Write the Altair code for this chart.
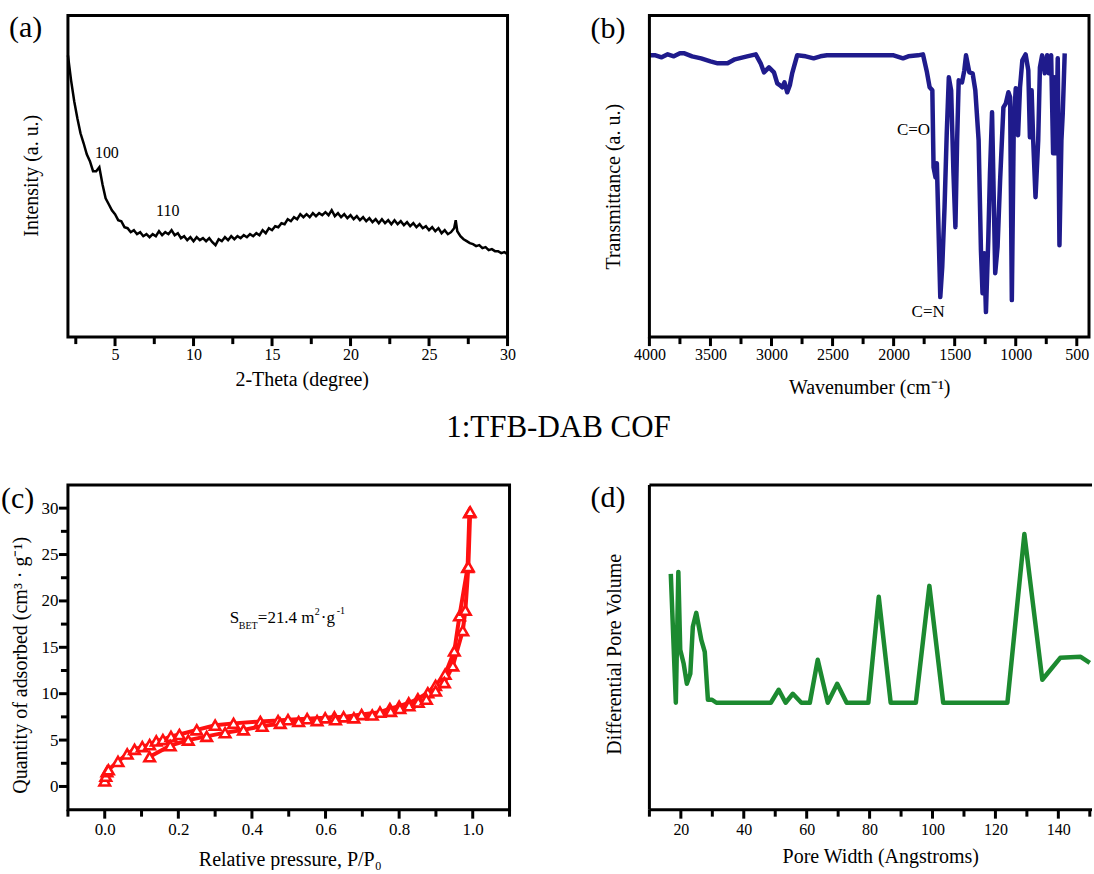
import altair as alt
import pandas as pd

SERIF = "Liberation Serif"

# ---------------- (a) powder XRD pattern ----------------
two_theta = [
    2.0, 2.2, 2.4, 2.6, 2.8, 3.0, 3.2, 3.4, 3.6, 3.8,
    4.0, 4.2, 4.4, 4.6, 4.8, 5.0, 5.2, 5.4, 5.6, 5.8,
    6.0, 6.2, 6.4, 6.6, 6.8, 7.0, 7.2, 7.4, 7.6, 7.8,
    8.0, 8.2, 8.4, 8.6, 8.8, 9.0, 9.2, 9.4, 9.6, 9.8,
    10.0, 10.2, 10.4, 10.6, 10.8, 11.0, 11.2, 11.4, 11.6, 11.8,
    12.0, 12.2, 12.4, 12.6, 12.8, 13.0, 13.2, 13.4, 13.6, 13.8,
    14.0, 14.2, 14.4, 14.6, 14.8, 15.0, 15.2, 15.4, 15.6, 15.8,
    16.0, 16.2, 16.4, 16.6, 16.8, 17.0, 17.2, 17.4, 17.6, 17.8,
    18.0, 18.2, 18.4, 18.6, 18.8, 19.0, 19.2, 19.4, 19.6, 19.8,
    20.0, 20.2, 20.4, 20.6, 20.8, 21.0, 21.2, 21.4, 21.6, 21.8,
    22.0, 22.2, 22.4, 22.6, 22.8, 23.0, 23.2, 23.4, 23.6, 23.8,
    24.0, 24.2, 24.4, 24.6, 24.8, 25.0, 25.2, 25.4, 25.6, 25.8,
    26.0, 26.2, 26.4, 26.6, 26.7, 26.8, 27.0, 27.2, 27.4, 27.6,
    27.8, 28.0, 28.2, 28.4, 28.6, 28.8, 29.0, 29.2, 29.4, 29.6,
    29.8, 30.0,
]
xrd_intensity = [
    282, 257, 236, 219, 204, 194, 183, 176, 166, 166,
    170, 153, 139, 133, 127, 123, 117, 116, 110, 109,
    105, 107, 103, 105, 101, 103, 100, 103, 101, 106,
    102, 105, 103, 107, 102, 104, 99, 101, 97, 100,
    96, 100, 97, 99, 96, 99, 95, 92, 98, 96,
    100, 97, 101, 98, 101, 99, 102, 100, 103, 101,
    104, 102, 107, 104, 109, 107, 111, 110, 114, 113,
    118, 116, 120, 118, 123, 120, 123, 120, 124, 121,
    124, 122, 125, 122, 127, 121, 124, 120, 123, 119,
    122, 118, 121, 117, 120, 116, 119, 115, 118, 114,
    118, 114, 117, 113, 117, 113, 116, 112, 115, 111,
    114, 110, 113, 109, 111, 107, 110, 106, 109, 104,
    107, 103, 105, 109, 117, 106, 101, 98, 96, 94,
    93, 91, 92, 89, 90, 87, 88, 86, 86, 84,
    85, 83,
]
xrd_peak_pos = [4.48, 8.36]
xrd_peak_height = [179, 121]
xrd_peak_label = ["100", "110"]
xrd_major_ticks = [5, 10, 15, 20, 25, 30]
xrd_minor_ticks = [2.5, 7.5, 12.5, 17.5, 22.5, 27.5]

# ---------------- (b) FT-IR spectrum ----------------
ftir_wavenumber = [
    3995, 3950, 3900, 3850, 3800, 3750, 3713, 3650, 3577, 3500,
    3441, 3360, 3300, 3200, 3129, 3089, 3062, 3021, 2980, 2953,
    2930, 2912, 2894, 2871, 2850, 2831, 2790, 2720, 2655, 2600,
    2546, 2438, 2300, 2100, 2000, 1923, 1880, 1800, 1760, 1727,
    1705, 1683, 1673, 1657, 1646, 1630, 1618, 1602, 1583, 1565,
    1548, 1529, 1510, 1494, 1480, 1467, 1440, 1421, 1407, 1380,
    1353, 1331, 1304, 1285, 1272, 1258, 1244, 1225, 1211, 1194,
    1184, 1168, 1149, 1128, 1101, 1081, 1060, 1046, 1032, 1016,
    1000, 981, 965, 946, 919, 897, 884, 870, 857, 838,
    816, 802, 784, 762, 743, 729, 710, 694, 680, 669,
    656, 642, 626, 615, 599,
]
ftir_transmittance = [
    282, 282, 280, 283, 281, 284, 284, 281, 279, 276,
    274, 274, 278, 281, 283, 274, 265, 270, 265, 254,
    252, 250, 255, 245, 252, 264, 282, 281, 279, 281,
    282, 282, 282, 282, 282, 279, 281, 282, 283, 265,
    250, 247, 170, 160, 174, 97, 40, 70, 130, 204,
    260, 247, 164, 110, 197, 257, 255, 267, 282, 265,
    264, 247, 197, 87, 44, 84, 25, 97, 164, 225,
    164, 64, 90, 157, 230, 234, 245, 240, 37, 214,
    249, 202, 250, 277, 283, 267, 200, 247, 197, 140,
    197, 270, 282, 264, 282, 264, 282, 184, 260, 184,
    279, 92, 197, 224, 284,
]
ftir_major_ticks = [4000, 3500, 3000, 2500, 2000, 1500, 1000, 500]
ftir_minor_ticks = [3750, 3250, 2750, 2250, 1750, 1250, 750]
ftir_band_label = ["C=O", "C=N"]
ftir_band_pos = [1701, 1717]
ftir_band_height = [202, 20]
ftir_band_align = ["right", "center"]

# ---------------- (c) N2 sorption isotherm ----------------
ads_pressure = [0.000, 0.003, 0.006, 0.010, 0.036, 0.061, 0.081, 0.102, 0.122,
                0.140, 0.158, 0.180, 0.203, 0.250, 0.300, 0.350, 0.423, 0.471,
                0.498, 0.550, 0.599, 0.624, 0.649, 0.698, 0.748, 0.775, 0.800,
                0.826, 0.851, 0.878, 0.899, 0.925, 0.950, 0.964, 0.986, 0.991]
ads_quantity = [0.6, 1.1, 1.6, 1.8, 2.7, 3.5, 4.0, 4.3, 4.5,
                4.9, 5.05, 5.4, 5.6, 6.1, 6.6, 6.8, 7.0, 7.1,
                7.2, 7.3, 7.4, 7.5, 7.5, 7.75, 8.0, 8.4, 8.65,
                9.0, 9.45, 10.1, 10.9, 12.1, 14.6, 18.4, 23.6, 29.5]
des_pressure = [0.122, 0.178, 0.227, 0.277, 0.327, 0.377, 0.428, 0.477, 0.527,
                0.577, 0.627, 0.677, 0.727, 0.777, 0.802, 0.827, 0.852, 0.874,
                0.899, 0.923, 0.946, 0.973, 0.980, 0.988, 0.993]
des_quantity = [3.2, 4.4, 5.0, 5.4, 5.8, 6.1, 6.5, 6.8, 7.0,
                7.1, 7.2, 7.4, 7.7, 8.1, 8.4, 8.7, 9.1, 9.4,
                10.3, 11.2, 13.0, 16.8, 19.0, 23.7, 29.6]
iso_x_major_ticks = [0.0, 0.2, 0.4, 0.6, 0.8, 1.0]
iso_x_minor_ticks = [-0.1, 0.1, 0.3, 0.5, 0.7, 0.9, 1.1]
iso_y_major_ticks = [0, 5, 10, 15, 20, 25, 30]
iso_y_minor_ticks = [2.5, 7.5, 12.5, 17.5, 22.5, 27.5]

# S_BET annotation pieces: text, font size, horizontal and vertical offsets
bet_text = ["S", "BET", "=21.4 m", "2", "\u00b7g", "-1"]
bet_size = [17, 10, 17, 10, 17, 10]
bet_dx = [0, 9, 28, 85, 91, 107]
bet_dy = [0, 6, 0, -8, 0, -9]

# ---------------- (d) pore size distribution ----------------
pore_width = [16.8, 18.4, 19.2, 19.8, 20.9, 21.9, 23.0, 23.8, 24.9, 26.5,
              27.6, 28.6, 29.9, 31.3, 48.6, 51.1, 53.3, 55.6, 58.3, 61.0,
              63.5, 66.7, 69.7, 72.7, 79.6, 82.9, 86.7, 94.7, 99.0, 103.4,
              123.8, 129.2, 134.9, 140.6, 147.1, 150.0]
pore_volume = [236, 107, 238, 160, 146, 126, 136, 183, 197, 170,
               158, 110, 110, 107, 107, 120, 107, 116, 107, 107,
               150, 107, 126, 107, 107, 213, 107, 107, 224, 107,
               107, 276, 130, 152, 153, 147]
pore_major_ticks = [20, 40, 60, 80, 100, 120, 140]
pore_minor_ticks = [10, 30, 50, 70, 90, 110, 130, 150]

# Each view is a little larger than its framed plot box: a margin M on the
# left and at the bottom holds the outward tick marks.  The scale domains
# below run from the view edge, so the frames sit at 2-30, 4000-400,
# -0.1-1.1 / -2.5-32.5 and 10-150.7.
M = 10
MAJOR_LEN = 9
MINOR_LEN = 7

WA, HA = 440, 322
WB, HB = 440, 322
WC, HC = 442, 325
WD, HD = 443, 325

XA_DOMAIN = [1.36364, 30]
YA_DOMAIN = [-10, 322]
XB_DOMAIN = [400, 4081.82]
YB_DOMAIN = [-10, 322]
XC_DOMAIN = [-0.127149, 1.1]
YC_DOMAIN = [-3.57692, 32.5]
XD_DOMAIN = [6.82393, 150.7]
YD_DOMAIN = [-10, 325]


def lin_scale(domain, reverse=False):
    if reverse:
        return alt.Scale(domain=domain, nice=False, zero=False, reverse=True)
    return alt.Scale(domain=domain, nice=False, zero=False)


def bottom_axis(title, values, fmt, title_x, title_y, label_size=16, label_pad=9):
    return alt.Axis(
        title=title, values=values, format=fmt, grid=False, ticks=False, domain=False,
        offset=-M,
        labelFont=SERIF, labelFontSize=label_size, labelColor="black",
        labelPadding=label_pad, labelFlush=False, labelOverlap=False,
        titleFont=SERIF, titleFontSize=20, titleFontWeight="normal", titleColor="black",
        titleX=title_x, titleY=title_y, titleBaseline="alphabetic",
    )


def plain_left_axis(title, title_x, title_y):
    return alt.Axis(
        title=title, grid=False, ticks=False, labels=False, domain=False,
        offset=-M,
        titleFont=SERIF, titleFontSize=20, titleFontWeight="normal", titleColor="black",
        titleX=title_x, titleY=title_y, titleBaseline="alphabetic", titleAngle=270,
    )


def frame_box(w, h):
    """Black plot frame around the data area (inside the slightly larger view)."""
    return alt.Chart(pd.DataFrame({"k": [0]})).mark_rect(
        filled=False, stroke="black", strokeWidth=3
    ).encode(x=alt.value(M), x2=alt.value(M + w), y=alt.value(0), y2=alt.value(h))


def frame_edge(x1, x2, y1, y2):
    return alt.Chart(pd.DataFrame({"k": [0]})).mark_rule(color="black", strokeWidth=3).encode(
        x=alt.value(x1), x2=alt.value(x2), y=alt.value(y1), y2=alt.value(y2))


def x_tick_marks(field, values, x_channel, h, length):
    """Outward tick marks under the bottom frame edge, placed through the x scale."""
    df = pd.DataFrame({field: values})
    return alt.Chart(df).mark_rule(color="black", strokeWidth=3).encode(
        x=x_channel, y=alt.value(h), y2=alt.value(h + length))


def y_tick_marks(field, values, y_channel, length):
    """Outward tick marks left of the frame, placed through the y scale."""
    df = pd.DataFrame({field: values})
    return alt.Chart(df).mark_rule(color="black", strokeWidth=3).encode(
        y=y_channel, x=alt.value(M - length), x2=alt.value(M))


def panel_tag(tag, x, y):
    return alt.Chart(pd.DataFrame({"tag": [tag]})).mark_text(
        font=SERIF, fontSize=30, align="left", baseline="alphabetic", color="black"
    ).encode(x=alt.value(x), y=alt.value(y), text="tag:N")


# ---- panel (a)
xa = alt.X("two_theta:Q", scale=lin_scale(XA_DOMAIN),
           axis=bottom_axis("2-Theta (degree)", xrd_major_ticks, "d", 234 + M, 48))
ya = alt.Y("intensity:Q", scale=lin_scale(YA_DOMAIN),
           axis=plain_left_axis("Intensity (a. u.)", -30, 160))

xrd_df = pd.DataFrame({"two_theta": two_theta, "intensity": xrd_intensity})
peaks_df = pd.DataFrame({"two_theta": xrd_peak_pos, "intensity": xrd_peak_height, "label": xrd_peak_label})

a_line = alt.Chart(xrd_df).mark_line(color="black", strokeWidth=2.5).encode(x=xa, y=ya)
a_text = alt.Chart(peaks_df).mark_text(
    font=SERIF, fontSize=16, align="center", baseline="alphabetic", color="black"
).encode(x=xa, y=ya, text="label:N")
figure_title = alt.Chart(pd.DataFrame({"t": ["1:TFB-DAB COF"]})).mark_text(
    font=SERIF, fontSize=31, align="center", baseline="alphabetic", color="black"
).encode(x=alt.value(491 + M), y=alt.value(422), text="t:N")

panel_a = alt.layer(
    a_line, a_text, frame_box(WA, HA),
    x_tick_marks("two_theta", xrd_major_ticks, xa, HA, MAJOR_LEN),
    x_tick_marks("two_theta", xrd_minor_ticks, xa, HA, MINOR_LEN),
    panel_tag("(a)", -59 + M, 22), figure_title,
).properties(width=WA + M, height=HA + M)

# ---- panel (b)
xb = alt.X("wavenumber:Q", scale=lin_scale(XB_DOMAIN, reverse=True),
           axis=bottom_axis("Wavenumber (cm\u207b\u00b9)", ftir_major_ticks, "d", 220 + M, 56))
yb = alt.Y("transmittance:Q", scale=lin_scale(YB_DOMAIN),
           axis=plain_left_axis("Transmittance (a. u.)", -30, 171))

ftir_df = pd.DataFrame({"wavenumber": ftir_wavenumber, "transmittance": ftir_transmittance})
bands_df = pd.DataFrame({"wavenumber": ftir_band_pos, "transmittance": ftir_band_height,
                         "label": ftir_band_label, "align": ftir_band_align})

b_line = alt.Chart(ftir_df).mark_line(color="#1f1b8c", strokeWidth=4.5, strokeJoin="round").encode(x=xb, y=yb)
b_text_r = alt.Chart(bands_df[bands_df["align"] == "right"]).mark_text(
    font=SERIF, fontSize=17, align="right", baseline="alphabetic", color="black"
).encode(x=xb, y=yb, text="label:N")
b_text_c = alt.Chart(bands_df[bands_df["align"] == "center"]).mark_text(
    font=SERIF, fontSize=17, align="center", baseline="alphabetic", color="black"
).encode(x=xb, y=yb, text="label:N")

panel_b = alt.layer(
    b_line, b_text_r, b_text_c, frame_box(WB, HB),
    x_tick_marks("wavenumber", ftir_major_ticks, xb, HB, MAJOR_LEN),
    x_tick_marks("wavenumber", ftir_minor_ticks, xb, HB, MINOR_LEN),
    panel_tag("(b)", -59 + M, 23),
).properties(width=WB + M, height=HB + M)

# ---- panel (c)
xc = alt.X("pressure:Q", scale=lin_scale(XC_DOMAIN),
           axis=bottom_axis("Relative pressure, P/P\u2080", iso_x_major_ticks, ".1f", 222 + M, 56,
                            label_size=17, label_pad=12))
yc = alt.Y("quantity:Q", scale=lin_scale(YC_DOMAIN),
           axis=alt.Axis(
               title="Quantity of adsorbed (cm\u00b3 \u00b7 g\u207b\u00b9)", values=iso_y_major_ticks,
               format="d", grid=False, ticks=False, domain=False, offset=-M,
               labelFont=SERIF, labelFontSize=17, labelColor="black", labelPadding=10,
               labelOverlap=False,
               titleFont=SERIF, titleFontSize=20, titleFontWeight="normal", titleColor="black",
               titleX=-41, titleY=180, titleBaseline="alphabetic", titleAngle=270,
           ))

iso_df = pd.concat([
    pd.DataFrame({"pressure": ads_pressure, "quantity": ads_quantity, "branch": "adsorption"}),
    pd.DataFrame({"pressure": des_pressure, "quantity": des_quantity, "branch": "desorption"}),
], ignore_index=True)

c_line = alt.Chart(iso_df).mark_line(color="#ff1010", strokeWidth=4).encode(
    x=xc, y=yc, detail="branch:N")
c_pts = alt.Chart(iso_df).mark_point(
    shape="triangle-up", size=110, filled=False, fill="white", fillOpacity=1,
    stroke="#ff1010", strokeWidth=2.6, opacity=1
).encode(x=xc, y=yc)

bet_df = pd.DataFrame({"pressure": [0.34] * 6, "quantity": [17.6] * 6, "txt": bet_text,
                       "size": bet_size, "dx": bet_dx, "dy": bet_dy})
c_bet = []
for i in range(len(bet_text)):
    c_bet.append(
        alt.Chart(bet_df.iloc[[i]]).mark_text(
            font=SERIF, fontSize=int(bet_size[i]), align="left", baseline="alphabetic",
            color="black", dx=int(bet_dx[i]), dy=int(bet_dy[i])
        ).encode(x=xc, y=yc, text="txt:N")
    )

panel_c = alt.layer(
    c_line, c_pts, *c_bet, frame_box(WC, HC),
    x_tick_marks("pressure", iso_x_major_ticks, xc, HC, MAJOR_LEN),
    x_tick_marks("pressure", iso_x_minor_ticks, xc, HC, MINOR_LEN),
    y_tick_marks("quantity", iso_y_major_ticks, yc, MAJOR_LEN),
    y_tick_marks("quantity", iso_y_minor_ticks, yc, MINOR_LEN),
    panel_tag("(c)", -67 + M, 23),
).properties(width=WC + M, height=HC + M)

# ---- panel (d): the right edge of its frame falls outside the figure
xd = alt.X("width:Q", scale=lin_scale(XD_DOMAIN),
           axis=bottom_axis("Pore Width (Angstroms)", pore_major_ticks, "d", 231 + M, 53, label_pad=12))
yd = alt.Y("volume:Q", scale=lin_scale(YD_DOMAIN),
           axis=plain_left_axis("Differential Pore Volume", -29, 169))

pore_df = pd.DataFrame({"width": pore_width, "volume": pore_volume})
d_line = alt.Chart(pore_df).mark_line(color="#1c8a30", strokeWidth=4.5, strokeJoin="round").encode(x=xd, y=yd)

panel_d = alt.layer(
    d_line,
    frame_edge(M, M + WD, 0, 0),
    frame_edge(M, M + WD, HD, HD),
    frame_edge(M, M, 0, HD),
    x_tick_marks("width", pore_major_ticks, xd, HD, MAJOR_LEN),
    x_tick_marks("width", pore_minor_ticks, xd, HD, MINOR_LEN),
    panel_tag("(d)", -59 + M, 22),
).properties(width=WD + M, height=HD + M)

chart = alt.concat(
    panel_a, panel_b, panel_c, panel_d,
    columns=2, spacing={"row": 148 - M, "column": 140 - M}, bounds="flush",
).properties(
    padding={"left": 1, "top": 13, "right": 0, "bottom": 0},
    background="white",
).configure_view(stroke=None)

chart.save("out.html", embed_options={"renderer": "svg", "actions": False})
